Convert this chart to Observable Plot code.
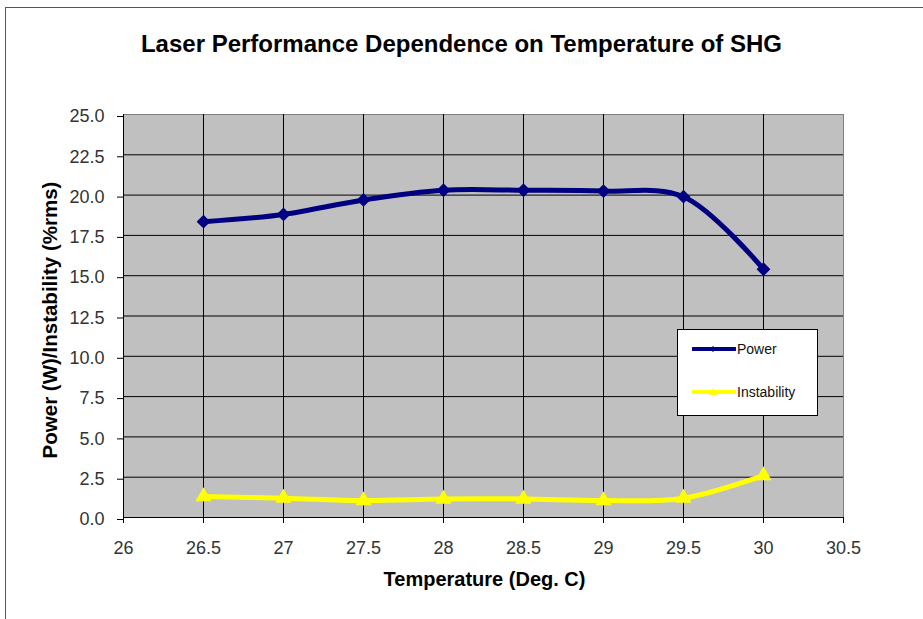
<!DOCTYPE html>
<html><head><meta charset="utf-8">
<script src="https://cdn.jsdelivr.net/npm/d3@7"></script>
<script src="https://cdn.jsdelivr.net/npm/@observablehq/plot@0.6"></script>
<style>
body{margin:0;background:#fff;overflow:hidden;}
#wrap{position:relative;width:923px;height:619px;font-family:"Liberation Sans",Arial,sans-serif;overflow:hidden;}
#border{position:absolute;left:5px;top:7px;width:960px;height:700px;border:1px solid #555;box-sizing:border-box;}
#title{position:absolute;left:0;width:923px;top:30px;text-align:center;font-weight:bold;font-size:24px;color:#000;}
#xlabel{position:absolute;left:333px;width:303px;top:568px;text-align:center;font-weight:bold;font-size:20px;color:#000;white-space:nowrap;}
#ylabel{position:absolute;left:50px;top:320px;transform:translate(-50%,-50%) rotate(-90deg);font-weight:bold;font-size:20.5px;color:#000;white-space:nowrap;}
#legend{position:absolute;left:677px;top:329px;width:141px;height:87px;background:#fff;border:1px solid #000;box-sizing:border-box;font-size:14px;color:#111;}
.li{position:absolute;left:14px;display:flex;align-items:center;}
.li span{margin-left:1px;}
#chart svg{position:absolute;left:0;top:0;}
</style></head><body>
<div id="wrap">
  <div id="chart"></div>
  <div id="border"></div>
  <div id="title">Laser Performance Dependence on Temperature of SHG</div>
  <div id="xlabel">Temperature (Deg. C)</div>
  <div id="ylabel">Power (W)/Instability (%rms)</div>
  <div id="legend"></div>
</div>
<script>
const temperatures = [26.5, 27, 27.5, 28, 28.5, 29, 29.5, 30];
const power = [18.35, 18.8, 19.7, 20.3, 20.3, 20.25, 19.9, 15.4];
const instability = [1.3, 1.2, 1.05, 1.15, 1.15, 1.05, 1.2, 2.6];
const seriesNames = ["Power", "Instability"];
const seriesColors = ["#000080", "#FFFF00"];
const xTicks = [26, 26.5, 27, 27.5, 28, 28.5, 29, 29.5, 30, 30.5];
const yTicks = [0, 2.5, 5, 7.5, 10, 12.5, 15, 17.5, 20, 22.5, 25];

const diamond = {draw(ctx, size){const r = Math.sqrt(size/2); ctx.moveTo(0,-r); ctx.lineTo(r,0); ctx.lineTo(0,r); ctx.lineTo(-r,0); ctx.closePath();}};

const rows = [];
temperatures.forEach((t,i)=>{
  rows.push({t, v: power[i], s: seriesNames[0]});
  rows.push({t, v: instability[i], s: seriesNames[1]});
});
const pRows = rows.filter(d=>d.s===seriesNames[0]);
const iRows = rows.filter(d=>d.s===seriesNames[1]);

const chart = Plot.plot({
  width: 923, height: 619,
  marginLeft: 123, marginRight: 80, marginTop: 114, marginBottom: 102,
  style: {fontFamily: '"Liberation Sans", Arial, sans-serif', fontSize: "18px", color: "#333", background: "transparent"},
  x: {domain: [26, 30.5], label: null},
  y: {domain: [0, 25], label: null},
  marks: [
    Plot.frame({fill: "#C0C0C0", stroke: "#808080"}),
    Plot.gridX(xTicks.slice(1, -1), {stroke: "#000", strokeOpacity: 1}),
    Plot.gridY(yTicks.slice(1, -1), {stroke: "#000", strokeOpacity: 1}),
    Plot.ruleX([26], {stroke: "#000"}),
    Plot.ruleY([0], {stroke: "#000"}),
    Plot.axisX(xTicks, {tickFormat: d => String(d), tickSize: 6, tickPadding: 18, label: null, stroke: "#000", fill: "#333", fontSize: 18}),
    Plot.axisY(yTicks, {tickFormat: d3.format(".1f"), tickSize: 6, tickPadding: 13, label: null, stroke: "#000", fill: "#333", fontSize: 18, dy: 2}),
    Plot.line(pRows, {x: "t", y: "v", stroke: seriesColors[0], strokeWidth: 5, curve: "catmull-rom"}),
    Plot.dot(pRows, {x: "t", y: "v", fill: seriesColors[0], symbol: diamond, r: 5.5}),
    Plot.line(iRows, {x: "t", y: "v", stroke: seriesColors[1], strokeWidth: 5, curve: "catmull-rom"}),
    Plot.dot(iRows, {x: "t", y: "v", fill: seriesColors[1], symbol: "triangle", r: 6})
  ]
});
document.getElementById("chart").appendChild(chart);

// legend
const leg = document.getElementById("legend");
seriesNames.forEach((name, i) => {
  const item = document.createElement("div");
  item.className = "li";
  item.style.top = (i === 0 ? 10 : 53) + "px";
  const sym = i === 0
    ? `<path d="M21,6 L24,9 L21,12 L18,9 Z" fill="${seriesColors[i]}"/>`
    : `<path d="M21,5 L25,12 L17,12 Z" fill="${seriesColors[i]}"/>`;
  item.innerHTML = `<svg width="44" height="18"><line x1="1" x2="43" y1="9" y2="9" stroke="${seriesColors[i]}" stroke-width="4" stroke-linecap="round"/>${sym}</svg><span>${name}</span>`;
  leg.appendChild(item);
});
</script>
</body></html>
